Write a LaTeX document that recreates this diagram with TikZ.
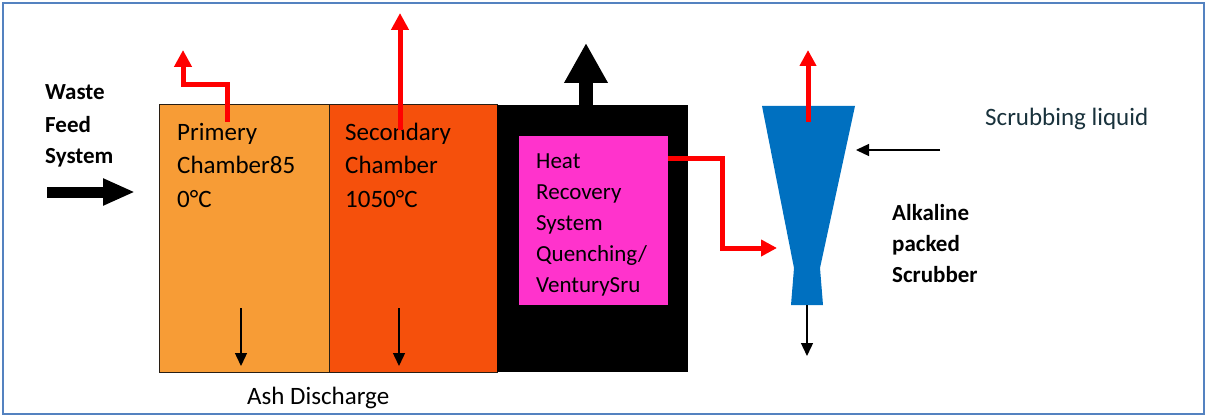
\documentclass[tikz,border=0pt]{standalone}
\usepackage{fontspec}
\setmainfont{Carlito}
\usetikzlibrary{arrows.meta}
\definecolor{framecol}{RGB}{84,130,192}
\definecolor{primcol}{RGB}{247,156,54}
\definecolor{seccol}{RGB}{245,80,12}
\definecolor{pinkcol}{RGB}{255,51,204}
\definecolor{scrubcol}{RGB}{0,112,192}
\definecolor{liqcol}{RGB}{25,50,60}
\definecolor{edgecol}{RGB}{40,30,20}
\tikzset{
  chamber/.style={draw=edgecol, line width=1pt, anchor=north west, inner sep=0pt, outer sep=0pt},
  lbl/.style={anchor=base west, inner sep=0pt, align=left, font=\fontsize{25}{33.5}\selectfont},
  boldlbl/.style={anchor=base west, inner sep=0pt, align=left, font=\fontsize{23}{32}\selectfont\bfseries},
  gasflow/.style={draw=red, line width=5pt, -{Triangle[width=17pt,length=17pt]}},
  thinflow/.style={draw=black, line width=1.4pt, -{Triangle[width=12pt,length=13pt]}},
}
\begin{document}
\begin{tikzpicture}[x=1pt,y=-1pt]
\useasboundingbox (0,0) rectangle (1207,417);
\draw[framecol, line width=2pt] (3,3) rectangle (1204,414);

% chambers
\node[chamber, fill=primcol, minimum width=170pt, minimum height=267pt] (prim) at (159,105) {};
\node[chamber, fill=seccol, minimum width=168pt, minimum height=267pt] (sec) at (329,105) {};
\node[chamber, draw=none, fill=black, minimum width=191pt, minimum height=267pt] (blk) at (497,105) {};
\node[chamber, draw=none, fill=pinkcol, minimum width=149pt, minimum height=169pt] (hr) at (519,136) {};

% texts (base = last line's baseline)
\node[lbl] (primtxt) at (177,207) {Primery\\Chamber85\\0°C};
\node[lbl] (sectxt) at (345,207) {Secondary\\Chamber\\1050°C};
\node[lbl, font=\fontsize{23}{31}\selectfont] (hrtxt) at (536,292) {Heat\\Recovery\\System\\Quenching/\\VenturySru};
\node[boldlbl] (waste) at (45,164) {Waste\\Feed\\System};
\node[boldlbl, font=\fontsize{23}{31}\selectfont\bfseries] (alk) at (892,282) {Alkaline\\packed\\Scrubber};
\node[lbl, text=liqcol] (liq) at (985,125) {Scrubbing liquid};
\node[lbl] (ash) at (247,404) {Ash Discharge};

% waste feed arrow
\coordinate (wfs) at (47,192);
\coordinate (wfe) at (135,192);
\draw[black, line width=11pt, -{Triangle[width=25pt,length=32pt]}] (wfs) -- (wfe);

% scrubber
\fill[scrubcol] (762,106) -- (855,106) -- (820,268) -- (823,305) -- (791,305) -- (794,268) -- cycle;
\coordinate (scrtop) at (808,122);
\coordinate (scrtip) at (808,50);
\coordinate (scrbot) at (807,305);
\coordinate (scrout) at (807,356);
\coordinate (scrin) at (777,248);
\coordinate (liqs) at (940,150);
\coordinate (liqe) at (856,150);

% gas flows
\coordinate (p1) at (227,122);
\coordinate (p2) at (183,50);
\draw[gasflow] (p1) -- (227,85) -| (p2);
\coordinate (s1) at (400,130);
\coordinate (s2) at (400,13);
\draw[gasflow] (s1) -- (s2);
\draw[gasflow, -{Triangle[width=16pt,length=16pt]}] (hr.east |- 0,158) -- (722,158) |- (scrin);
\draw[gasflow, -{Triangle[width=16pt,length=16pt]}] (scrtop) -- (scrtip);

% heat recovery exhaust
\coordinate (hx) at (586,43);
\draw[black, line width=14pt, -{Triangle[width=41pt,length=40pt]}] (586,105) -- (hx);

% ash discharge
\coordinate (a1) at (241,308);
\coordinate (a2) at (241,366);
\coordinate (b1) at (399,308);
\coordinate (b2) at (399,366);
\draw[thinflow] (a1) -- (a2);
\draw[thinflow] (b1) -- (b2);

% scrubber liquid in / out
\draw[thinflow] (liqs) -- (liqe);
\draw[thinflow] (scrbot) -- (scrout);
\end{tikzpicture}
\end{document}
